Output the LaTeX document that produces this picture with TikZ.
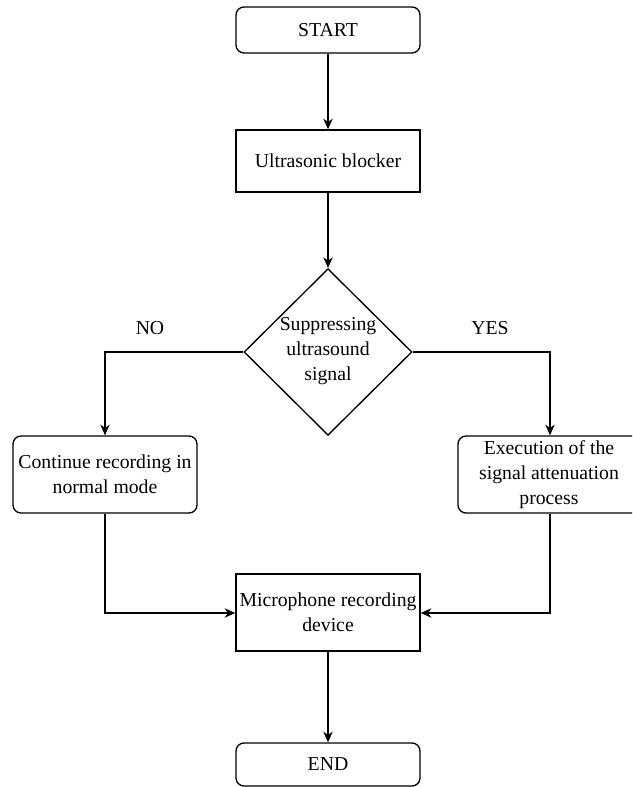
\documentclass[tikz,border=0pt]{standalone}
\usepackage{fontspec}
\setmainfont{Liberation Serif}
\usetikzlibrary{shapes.geometric,arrows.meta}
\begin{document}
\begin{tikzpicture}[x=0.75pt,y=-0.75pt,
  every node/.style={font=\fontsize{14.8}{18.8}\selectfont},
  box/.style={draw,line width=1pt,inner sep=0pt,align=center},
  rbox/.style={box,rounded corners=6pt},
  conn/.style={line width=1pt},
  arr/.style={conn,-{Stealth[length=8pt,width=7pt,inset=2.5pt]}}]
\clip (0,0) rectangle (632,787);
\useasboundingbox (0,0) rectangle (632,787);
\node[rbox,minimum width=138pt,minimum height=34.5pt] (start) at (328,30) {START};
\node[box,minimum width=138pt,minimum height=46.5pt] (ultra) at (328,161) {Ultrasonic blocker};
\node[draw,line width=1pt,diamond,aspect=1,inner sep=0pt,minimum width=126pt,minimum height=125pt] (dec) at (328,352) {};
\node[align=center] (dectext) at (328,351) {Suppressing\\ultrasound\\signal};
\node (no) at (150,328) {NO};
\node (yes) at (490,328) {YES};
\node[rbox,minimum width=138pt,minimum height=57.75pt] (left) at (105,474.5) {Continue recording in\\normal mode};
\node[rbox,minimum width=136.5pt,minimum height=57.75pt] (right) at (549,474.5) {Execution of the\\signal attenuation\\process};
\node[box,minimum width=138pt,minimum height=57.75pt] (mic) at (328,612.5) {Microphone recording\\device};
\node[rbox,minimum width=138pt,minimum height=32.25pt] (end) at (328,764.5) {END};
\coordinate (lc) at (105,352);
\coordinate (rc) at (550,352);
\coordinate (lb) at (105,613);
\coordinate (rb) at (550,613);
\draw[arr] (start) -- (ultra);
\draw[arr] (ultra) -- (dec);
\draw[arr] (dec.west) -- (lc) -- (left.north -| lc);
\draw[arr] (dec.east) -- (rc) -- (right.north -| rc);
\draw[arr] (left.south -| lb) -- (lb) -- (mic.west |- lb);
\draw[arr] (right.south -| rb) -- (rb) -- (mic.east |- rb);
\draw[arr] (mic) -- (end);
\end{tikzpicture}
\end{document}
